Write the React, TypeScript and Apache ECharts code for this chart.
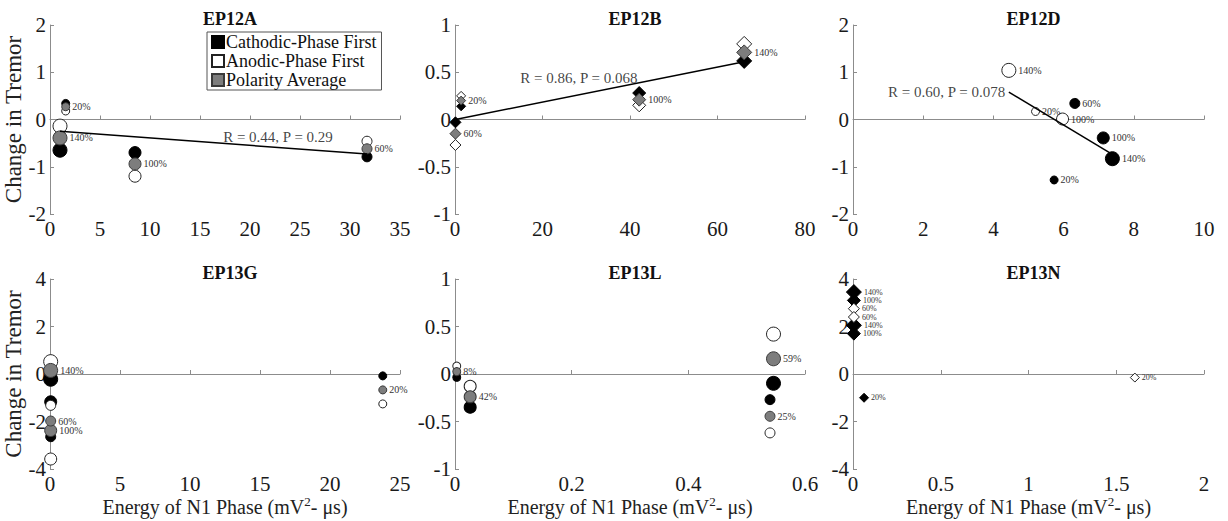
import React, { useEffect, useRef } from 'react';
import * as echarts from 'echarts';

const FONT = "'Liberation Serif', 'Times New Roman', Times, serif";

// ---- Data (x = energy of N1 phase, y = change in tremor, third = stimulation amplitude %) ----
const titles = ['EP12A', 'EP12B', 'EP12D', 'EP13G', 'EP13L', 'EP13N'];
const xMaxes = [35, 80, 10, 25, 0.6, 2];
const xSteps = [5, 20, 2, 5, 0.2, 0.5];
const yMins = [-2, -1, -2, -4, -1, -4];
const yMaxes = [2, 1, 2, 4, 1, 4];
const ySteps = [1, 0.5, 1, 2, 0.5, 2];

const ep12aCathodic = [[1.57, 0.34, 20], [1.0, -0.65, 140], [8.5, -0.7, 100], [31.7, -0.79, 60]];
const ep12aAnodic = [[1.57, 0.18, 20], [1.0, -0.14, 140], [8.5, -1.2, 100], [31.7, -0.46, 60]];
const ep12aAverage = [[1.57, 0.27, 20], [1.0, -0.39, 140], [8.5, -0.94, 100], [31.7, -0.62, 60]];
const ep12aFit = [[1.0, -0.25], [31.7, -0.73]];
const ep12aStat = 'R = 0.44, P = 0.29';
const ep12aStatAt = [22.8, -0.36];

const ep12bCathodic = [[1.4, 0.14, 20], [0.1, -0.03, 60], [42.1, 0.28, 100], [66.1, 0.62, 140]];
const ep12bAnodic = [[1.4, 0.25, 20], [0.1, -0.27, 60], [42.1, 0.15, 100], [66.1, 0.8, 140]];
const ep12bAverage = [[1.4, 0.2, 20], [0.1, -0.15, 60], [42.1, 0.21, 100], [66.1, 0.71, 140]];
const ep12bFit = [[0.1, 0.0], [66.1, 0.61]];
const ep12bStat = 'R = 0.86, P = 0.068';
const ep12bStatAt = [28.3, 0.44];

const ep12dCathodic = [[5.73, -1.28, 20], [6.32, 0.34, 60], [7.13, -0.39, 100], [7.39, -0.83, 140]];
const ep12dAnodic = [[5.2, 0.17, 20], [5.97, 0.01, 100], [4.44, 1.04, 140]];
const ep12dFit = [[4.44, 0.58], [7.39, -0.74]];
const ep12dStat = 'R = 0.60, P = 0.078';
const ep12dStatAt = [4.38, 0.58];

const ep13gCathodic = [[0.05, -0.22, 140], [0.05, -1.17, 100], [0.05, -2.64, 60], [23.77, -0.08, 20]];
const ep13gAnodic = [[0.05, 0.52, 140], [0.05, -3.58, 100], [0.05, -1.32, 60], [23.77, -1.26, 20]];
const ep13gAverage = [[0.05, 0.15, 140], [0.05, -2.38, 100], [0.05, -1.98, 60], [23.77, -0.67, 20]];

const ep13lCathodic = [[0.003, -0.035, 8], [0.026, -0.35, 42], [0.546, -0.098, 59], [0.54, -0.27, 25]];
const ep13lAnodic = [[0.003, 0.084, 8], [0.026, -0.13, 42], [0.546, 0.42, 59], [0.54, -0.62, 25]];
const ep13lAverage = [[0.003, 0.025, 8], [0.026, -0.24, 42], [0.546, 0.16, 59], [0.54, -0.445, 25]];

const ep13nCathodic = [[0.005, 3.45, 140], [0.005, 3.1, 100], [0.005, 2.05, 140], [0.005, 1.7, 100], [0.063, -1.0, 20]];
const ep13nAnodic = [[0.005, 2.75, 60], [0.005, 2.4, 60], [1.606, -0.15, 20]];

const NAME_C = 'Cathodic-Phase First';
const NAME_A = 'Anodic-Phase First';
const NAME_P = 'Polarity Average';

type Panel = {
  cath: number[][];
  anod: number[][];
  avg?: number[][];
  fit?: number[][];
  stat?: string;
  statAt?: number[];
  statAlign?: 'center' | 'right';
  symbol: string;
  labelAll: boolean;
  labelSize: number;
};

const panels: Panel[] = [
  { cath: ep12aCathodic, anod: ep12aAnodic, avg: ep12aAverage, fit: ep12aFit, stat: ep12aStat, statAt: ep12aStatAt, statAlign: 'center', symbol: 'circle', labelAll: false, labelSize: 10 },
  { cath: ep12bCathodic, anod: ep12bAnodic, avg: ep12bAverage, fit: ep12bFit, stat: ep12bStat, statAt: ep12bStatAt, statAlign: 'center', symbol: 'diamond', labelAll: false, labelSize: 10 },
  { cath: ep12dCathodic, anod: ep12dAnodic, fit: ep12dFit, stat: ep12dStat, statAt: ep12dStatAt, statAlign: 'right', symbol: 'circle', labelAll: true, labelSize: 10 },
  { cath: ep13gCathodic, anod: ep13gAnodic, avg: ep13gAverage, symbol: 'circle', labelAll: false, labelSize: 10 },
  { cath: ep13lCathodic, anod: ep13lAnodic, avg: ep13lAverage, symbol: 'circle', labelAll: false, labelSize: 10 },
  { cath: ep13nCathodic, anod: ep13nAnodic, symbol: 'diamond', labelAll: true, labelSize: 8 },
];

const GRID_LEFTS = [50, 455, 853];
const GRID_WIDTHS = [350, 350, 351];

function axisLine() {
  return { show: true, lineStyle: { color: '#8c8c8c', width: 1 } };
}
function axisTick() {
  return { show: true, inside: true, length: 4, lineStyle: { color: '#8c8c8c' } };
}
function axisLabel() {
  return { color: '#1a1a1a', fontFamily: FONT, fontSize: 21, margin: 4 };
}

function buildOption() {
  const grids: any[] = [];
  const xAxes: any[] = [];
  const yAxes: any[] = [];
  const titleList: any[] = [];
  const series: any[] = [];

  panels.forEach((p, i) => {
    const col = i % 3;
    const row = Math.floor(i / 3);
    const left = GRID_LEFTS[col];
    const width = GRID_WIDTHS[col];
    const top = row === 0 ? 25 : 279;
    const height = row === 0 ? 189 : 190;
    grids.push({ left, top, width, height, containLabel: false });
    titleList.push({
      text: titles[i],
      left: left + width / 2,
      top: row === 0 ? 5 : 259,
      textAlign: 'center',
      textStyle: { fontFamily: FONT, fontWeight: 'bold', fontSize: 18, color: '#111' },
    });
    const xa: any = {
      type: 'value', gridIndex: i, min: 0, max: xMaxes[i], interval: xSteps[i],
      axisLine: axisLine(), axisTick: axisTick(), axisLabel: axisLabel(), splitLine: { show: false },
    };
    if (row === 1) {
      xa.name = '{a|Energy of N1 Phase (mV}{s|2}{a|- μs)}';
      xa.nameLocation = 'middle';
      xa.nameGap = 22;
      xa.nameTextStyle = {
        rich: {
          a: { fontFamily: FONT, fontSize: 20, color: '#222', lineHeight: 24 },
          s: { fontFamily: FONT, fontSize: 13, color: '#222', verticalAlign: 'top' },
        },
      };
    }
    xAxes.push(xa);
    const ya: any = {
      type: 'value', gridIndex: i, min: yMins[i], max: yMaxes[i], interval: ySteps[i],
      axisLine: axisLine(), axisTick: axisTick(), axisLabel: axisLabel(), splitLine: { show: false },
    };
    if (col === 0) {
      ya.name = 'Change in Tremor';
      ya.nameLocation = 'middle';
      ya.nameGap = 22;
      ya.nameTextStyle = { fontFamily: FONT, fontSize: 23, color: '#222' };
    }
    yAxes.push(ya);

    const maxPct = Math.max(...[...p.cath, ...p.anod].map((d) => d[2]));
    const base = p.symbol === 'diamond' ? 8 : 7;
    const sizeFn = (v: number[]) => base + (7 * v[2]) / maxPct;
    const pointLabel = {
      show: true, position: 'right', distance: 2,
      fontFamily: FONT, fontSize: p.labelSize, lineHeight: p.labelSize, color: '#333',
      formatter: (prm: any) => prm.value[2] + '%',
    };
    const mk = (name: string, data: number[][], style: any, withLabel: boolean) => ({
      name, type: 'scatter', xAxisIndex: i, yAxisIndex: i, data,
      symbol: p.symbol, symbolSize: sizeFn, itemStyle: style,
      label: withLabel ? pointLabel : { show: false },
      emphasis: { disabled: true },
    });
    series.push(mk(NAME_C, p.cath, { color: '#000', borderColor: '#000', borderWidth: 1, opacity: 1 }, p.labelAll));
    series.push(mk(NAME_A, p.anod, { color: '#fff', borderColor: '#222', borderWidth: 1, opacity: 1 }, p.labelAll));
    if (p.avg) {
      series.push(mk(NAME_P, p.avg, { color: '#7d7d7d', borderColor: '#3a3a3a', borderWidth: 1, opacity: 1 }, true));
    }
    if (p.fit) {
      series.push({
        type: 'line', xAxisIndex: i, yAxisIndex: i, data: p.fit, symbol: 'none',
        lineStyle: { color: '#000', width: 1.5 }, silent: true, z: 5,
      });
    }
    if (p.stat && p.statAt) {
      series.push({
        type: 'scatter', xAxisIndex: i, yAxisIndex: i, data: [p.statAt], symbolSize: 1,
        itemStyle: { color: 'transparent' }, silent: true, z: 6,
        label: {
          show: true,
          position: p.statAlign === 'right' ? 'left' : 'inside',
          distance: 1,
          formatter: p.stat,
          fontFamily: FONT, fontSize: 15, color: '#111',
        },
      });
    }
  });

  return {
    animation: false,
    backgroundColor: '#fff',
    title: titleList,
    grid: grids,
    xAxis: xAxes,
    yAxis: yAxes,
    legend: {
      show: true,
      data: [NAME_C, NAME_A, NAME_P],
      orient: 'vertical',
      left: 207,
      top: 32,
      padding: [1, 5, 1, 4],
      itemWidth: 12,
      itemHeight: 12,
      itemGap: 1,
      icon: 'rect',
      backgroundColor: '#fff',
      borderColor: '#555',
      borderWidth: 1,
      selectedMode: false,
      textStyle: { fontFamily: FONT, fontSize: 18, lineHeight: 18, color: '#111', padding: [0, 0, 0, -3] },
    },
    series,
  };
}

export default function App() {
  const ref = useRef<HTMLDivElement>(null);
  useEffect(() => {
    if (!ref.current) return;
    const chart = echarts.init(ref.current, undefined, { renderer: 'svg' });
    chart.setOption(buildOption() as any);
    return () => chart.dispose();
  }, []);
  return (
    <div
      ref={ref}
      style={{ position: 'absolute', left: 0, top: 0, width: 1228, height: 521, background: '#fff' }}
    />
  );
}
